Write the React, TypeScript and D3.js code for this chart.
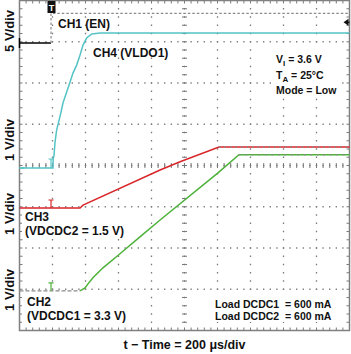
import React from 'react';
import * as d3 from 'd3';

// scope screen: 10 x 200 us horizontally, 8 divisions vertically
const timeDomain = [0, 2000];
const hDivs = 10;
const vDivs = 8;

// CH1 (EN), 5 V/div
const ch1Time = [0, 191];
const ch1Volt = [0, 0];
const ch1HighTime = [191, 191, 2000];
const ch1HighVolt = [0, 3.6, 3.6];

// CH4 (VLDO1), 1 V/div
const ch4Time = [0, 203, 204, 209, 215, 225, 245, 264, 286, 306, 324, 347, 367, 385, 407, 438, 488, 2000];
const ch4Volt = [0, 0, 0.22, 0.3, 0.61, 0.92, 1.24, 1.58, 1.84, 2.08, 2.3, 2.5, 2.74, 2.98, 3.15, 3.25, 3.27, 3.27];

// CH3 (VDCDC2 = 1.5 V), 1 V/div
const ch3Time = [0, 367, 385, 852, 973, 1209, 2000];
const ch3Volt = [0, 0, 0.07, 0.92, 1.12, 1.48, 1.48];

// CH2 (VDCDC1 = 3.3 V), 1 V/div
const ch2Time = [367, 397, 415, 445, 506, 609, 730, 852, 1203, 1330, 2000];
const ch2Volt = [0, 0.07, 0.17, 0.32, 0.56, 0.9, 1.31, 1.72, 2.86, 3.3, 3.3];

const axisLabels = ['5 V/div', '1 V/div', '1 V/div', '1 V/div'];
const xTitle = 't \u2212 Time = 200 \u03bcs/div';

const X0 = 19.5, X1 = 349.5, Y0 = 0.5, Y1 = 330.5;
const FONT = '"Liberation Sans", Arial, Helvetica, sans-serif';

const x = d3.scaleLinear().domain(timeDomain).range([X0, X1]);
const xDiv = d3.scaleLinear().domain([0, hDivs]).range([X0, X1]);
const yDiv = d3.scaleLinear().domain([0, vDivs]).range([Y1, Y0]);

// ground position (div) and scale of each channel
const chY = (pos: number, vdiv: number) => (v: number) => yDiv(pos + v / vdiv);
const y1 = chY(6.97, 5);
const y4 = chY(3.94, 1);
const y3 = chY(2.97, 1);
const y2 = chY(0.96, 1);

const path = (ts: number[], vs: number[], yf: (v: number) => number) =>
  d3.line<number>().x((t) => x(t)).y((_, i) => yf(vs[i]))(ts) || '';

const CYAN = '#55c3c6';
const RED = '#d8262a';
const GREEN = '#4db23a';
const GRID = '#7a7a7a';

export default function App() {
  const vLines = d3.range(1, hDivs).map((i) => xDiv(i));
  const hLines = d3.range(1, vDivs).map((i) => yDiv(i));
  const xMinor = d3.range(0, hDivs * 5 + 1).map((i) => xDiv(i / 5));
  const yMinor = d3.range(0, vDivs * 5 + 1).map((i) => yDiv(i / 5));
  const cx = xDiv(hDivs / 2);
  const cy = yDiv(vDivs / 2);
  const trig = x(191);

  const marker = (yf: (v: number) => number, color: string, top: number) => {
    const yb = yf(0);
    const yt = yb - top;
    return (
      <path d={`M${trig},${yb}V${yt}M${trig - 2.5},${yt}H${trig + 2.5}`} stroke={color} strokeWidth={1.2} fill="none" />
    );
  };

  return (
    <svg width={351} height={354} style={{ position: 'absolute', left: 0, top: 0, background: '#fff' }} fontFamily={FONT}>
      <rect x={0} y={0} width={351} height={354} fill="#fff" />
      {/* grid */}
      <g stroke={GRID} strokeWidth={1.3} fill="none">
        {vLines.map((vx, i) => (
          <line key={'v' + i} x1={vx} x2={vx} y1={Y0} y2={Y1} strokeDasharray="1.3 6.95" strokeDashoffset={0.65} />
        ))}
        {hLines.map((hy, i) => (
          <line key={'h' + i} x1={X0} x2={X1} y1={hy} y2={hy} strokeDasharray="1.3 5.3" strokeDashoffset={0.65} />
        ))}
        {yMinor.map((my, i) => (
          <line key={'cy' + i} x1={cx - 2.5} x2={cx + 2.5} y1={my} y2={my} strokeWidth={1} />
        ))}
        {xMinor.map((mx, i) => (
          <line key={'cx' + i} x1={mx} x2={mx} y1={cy - 2.5} y2={cy + 2.5} strokeWidth={1} />
        ))}
        {xMinor.map((mx, i) => (
          <g key={'bx' + i}>
            <line x1={mx} x2={mx} y1={Y0} y2={Y0 + 3} strokeWidth={1} />
            <line x1={mx} x2={mx} y1={Y1} y2={Y1 - 3} strokeWidth={1} />
          </g>
        ))}
        {yMinor.map((my, i) => (
          <g key={'by' + i}>
            <line x1={X0} x2={X0 + 3} y1={my} y2={my} strokeWidth={1} />
            <line x1={X1} x2={X1 - 3} y1={my} y2={my} strokeWidth={1} />
          </g>
        ))}
        <rect x={X0} y={Y0} width={X1 - X0} height={Y1 - Y0} strokeWidth={1.5} stroke="#808080" />
      </g>

      {/* annotation boxes */}
      <g fill="#fff">
        <rect x={271} y={48} width={70} height={50} />
        <rect x={22} y={211} width={105} height={28} />
        <rect x={22} y={294} width={110} height={30} />
        <rect x={207} y={295} width={131} height={27} />
      </g>

      {/* CH1 */}
      <path d={path(ch1Time, ch1Volt, y1)} stroke="#000" strokeWidth={1.5} fill="none" />
      <path d={path(ch1HighTime, ch1HighVolt, y1)} stroke="#8a8a8a" strokeWidth={1.2} strokeDasharray="2.5 2" fill="none" />
      <line x1={X0} x2={X0} y1={y1(0) - 5} y2={y1(0) + 5} stroke="#000" strokeWidth={1.5} />

      {/* CH4 */}
      <path d={path(ch4Time, ch4Volt, y4)} stroke={CYAN} strokeWidth={1.5} fill="none" />
      {marker(y4, CYAN, 9)}
      <line x1={X0} x2={X0 + 5} y1={y4(0)} y2={y4(0)} stroke={CYAN} strokeWidth={1.5} />

      {/* CH3 */}
      <path d={path(ch3Time, ch3Volt, y3)} stroke={RED} strokeWidth={1.5} fill="none" />
      <path d={path([1209, 2000], [1.48, 1.48], y3)} stroke="#8c8c8c" strokeWidth={1.5} strokeDasharray="1.5 4" fill="none" />
      {marker(y3, RED, 8)}

      {/* CH2 */}
      <path d={path([0, 367], [0, 0], y2)} stroke="#8a8a8a" strokeWidth={1.3} strokeDasharray="4 2" fill="none" />
      <path d={path(ch2Time, ch2Volt, y2)} stroke={GREEN} strokeWidth={1.5} fill="none" />
      <path d={path([1330, 2000], [3.3, 3.3], y2)} stroke="#8c8c8c" strokeWidth={1.5} strokeDasharray="1.5 5" fill="none" />
      {marker(y2, GREEN, 8)}

      {/* trigger position / level markers */}
      <rect x={trig - 3.5} y={1} width={8} height={12} fill="#111" />
      <text x={trig + 0.5} y={10.5} fontSize={9} fontWeight="bold" fill="#fff" textAnchor="middle">T</text>
      <path d={`M${X1 - 6},${y1(2.5)}L${X1 - 1},${y1(2.5) - 3.5}V${y1(2.5) + 3.5}Z`} fill="#111" />
      <line x1={X1 - 2} x2={X1} y1={y1(2.5)} y2={y1(2.5)} stroke="#111" strokeWidth={1.5} />

      {/* texts */}
      <g fontWeight="bold" fill="#111" fontSize={12}>
        <text x={58} y={28}>CH1 (EN)</text>
        <text x={93} y={57}>CH4 (VLDO1)</text>
        <text x={25} y={221}>CH3</text>
        <text x={25} y={234.5}>(VDCDC2 = 1.5 V)</text>
        <text x={27} y={305.5}>CH2</text>
        <text x={27} y={319.5}>(VDCDC1 = 3.3 V)</text>
        <g fontSize={10.5}>
          <text x={276} y={63}>V<tspan fontSize={8} dy={3}>I</tspan><tspan dy={-3}>{'  = 3.6 V'}</tspan></text>
          <text x={276} y={79}>T<tspan fontSize={8} dy={3}>A</tspan><tspan dy={-3}>{' = 25\u00b0C'}</tspan></text>
          <text x={276} y={94}>Mode = Low</text>
          <text x={215} y={308} style={{ whiteSpace: 'pre' }}>{'Load DCDC1  = 600 mA'}</text>
          <text x={215} y={319.5} style={{ whiteSpace: 'pre' }}>{'Load DCDC2  = 600 mA'}</text>
        </g>
        <text x={cx} y={349} textAnchor="middle" fontSize={12.5}>{xTitle}</text>
        {[31, 140, 214, 290].map((cyl, i) => (
          <text key={i} transform={`translate(14,${cyl}) rotate(-90)`} textAnchor="middle" fontSize={13}>
            {axisLabels[i]}
          </text>
        ))}
      </g>
    </svg>
  );
}
